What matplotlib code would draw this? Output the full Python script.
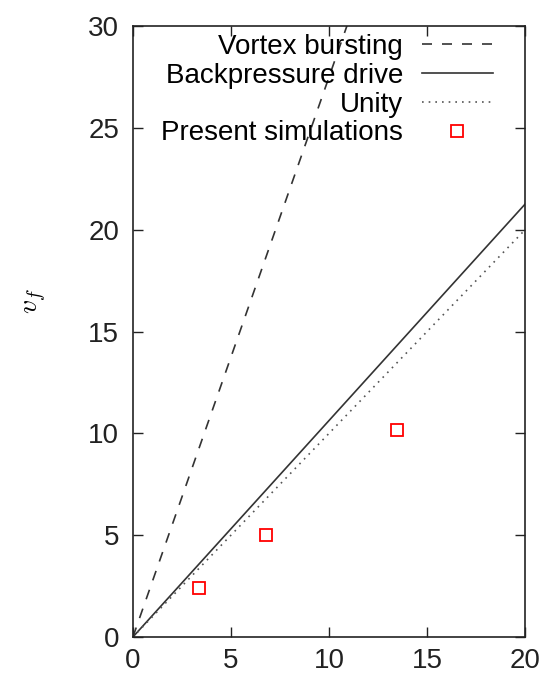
import numpy as np
import matplotlib.pyplot as plt

plt.rcParams['font.family'] = ['Liberation Sans', 'DejaVu Sans']
plt.rcParams['mathtext.fontset'] = 'cm'

# model slopes and simulation points
vortex_slope = 2.75
backpressure_slope = 1.063
unity_slope = 1.0
sim_x = [3.37, 6.79, 13.47]
sim_y = [2.4, 5.0, 10.16]

x_line = np.array([0.0, 20.0])

fig = plt.figure(figsize=(5.47, 6.78), dpi=100)
ax = fig.add_axes([0.243, 0.0605, 0.717, 0.901])

ax.plot(x_line, vortex_slope * x_line, color='#333333', lw=1.2,
        ls=(0, (6, 6)), label='Vortex bursting')
ax.plot(x_line, backpressure_slope * x_line, color='#333333', lw=1.2,
        label='Backpressure drive')
ax.plot(x_line, unity_slope * x_line, color='#555555', lw=1.2,
        ls=(0, (1, 3)), label='Unity')
ax.plot(sim_x, sim_y, ls='none', marker='s', ms=8, mfc='none', mec='red',
        mew=1.3, label='Present simulations')

ax.set_xlim(0, 20)
ax.set_ylim(0, 30)
ax.set_xticks([0, 5, 10, 15, 20])
ax.set_yticks([0, 5, 10, 15, 20, 25, 30])
ax.tick_params(direction='in', length=7, width=1, top=True, right=True,
               labelsize=20, colors='#222222')
ax.tick_params(axis='y', pad=10)
ax.tick_params(axis='x', pad=8)
for s in ax.spines.values():
    s.set_linewidth(1.2)
    s.set_color('#222222')

ax.set_ylabel(r'$v_f$', fontsize=20)
ax.yaxis.set_label_coords(-0.214, 0.55)

ax.legend(loc='upper right', frameon=False, markerfirst=False, fontsize=20,
          handlelength=2.55, handletextpad=0.68, labelspacing=0.1,
          borderaxespad=0.0, bbox_to_anchor=(0.946, 1.005))

fig.savefig('out.png', dpi=100)
